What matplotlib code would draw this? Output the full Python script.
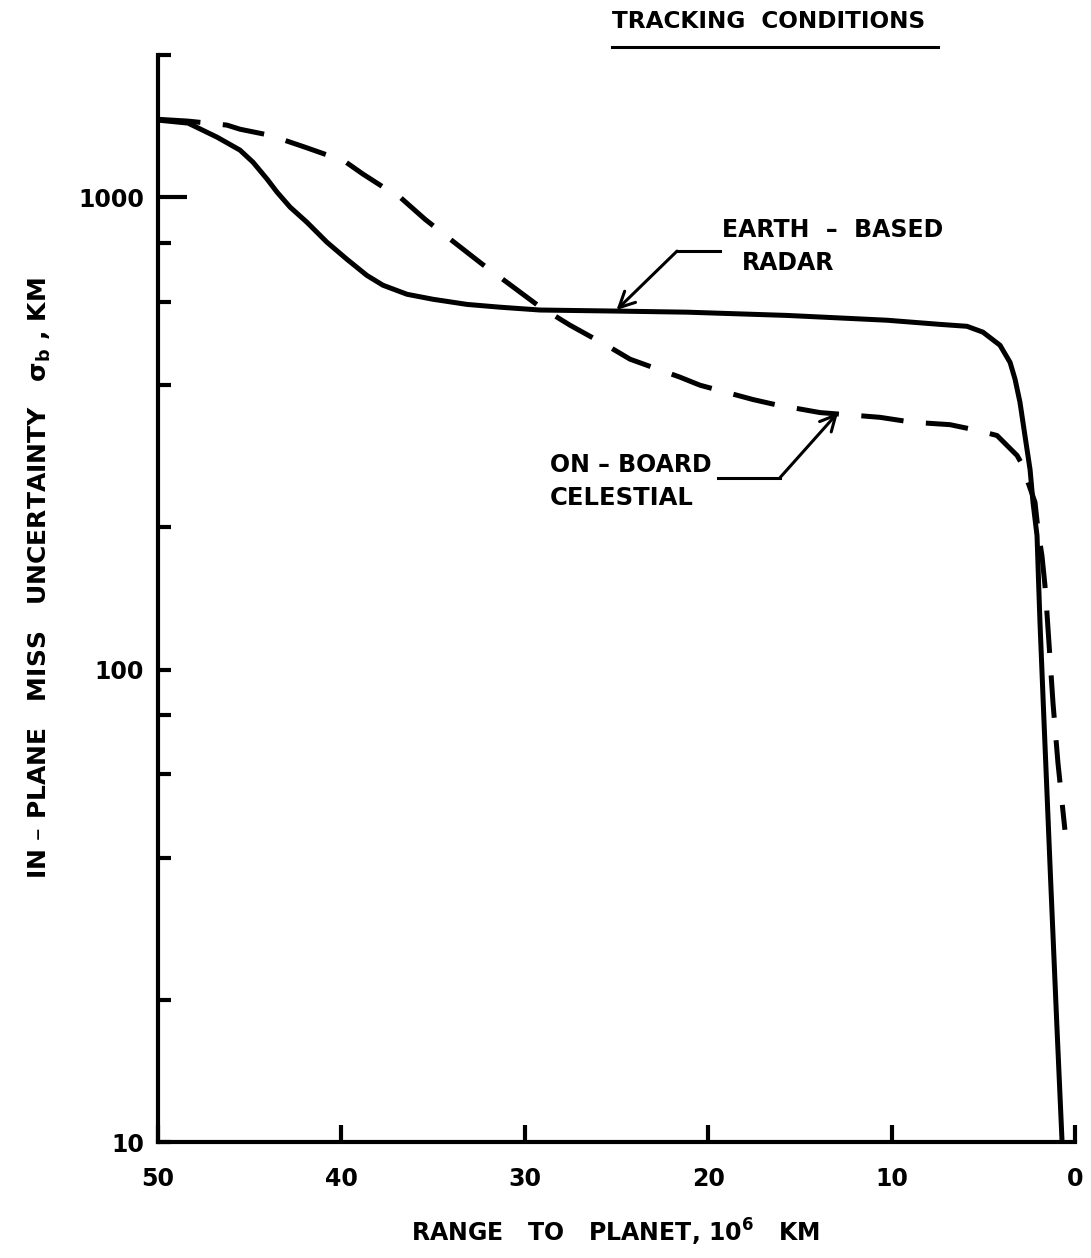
import matplotlib
matplotlib.use("Agg")
import matplotlib.pyplot as plt
from matplotlib.lines import Line2D

plt.rcParams['font.family'] = ['DejaVu Sans']
plt.rcParams['font.weight'] = 'bold'
plt.rcParams['mathtext.fontset'] = 'dejavusans'
plt.rcParams['mathtext.default'] = 'bf'

# Range to planet (10^6 km) and in-plane miss uncertainty (km)
radar_x = [50.0, 48.36, 46.78, 45.53, 44.82, 44.05, 43.51, 42.80, 41.88, 40.79,
           39.70, 38.61, 37.73, 36.42, 35.0, 33.15, 31.35, 29.17, 24.97, 21.16,
           15.70, 10.25, 7.36, 5.89, 5.02, 4.09, 3.54, 3.27, 3.00, 2.73,
           2.45, 2.29, 2.07, 1.98, 1.91, 1.70, 1.35, 0.99, 0.71]
radar_y = [1456, 1435, 1340, 1258, 1186, 1092, 1025, 953, 885, 803,
           739, 683, 651, 623, 608, 593, 585, 577, 574, 571,
           562, 549, 538, 533, 518, 486, 447, 412, 368, 313,
           265, 226, 192, 151, 126, 79.4, 37.5, 17.7, 10.1]

celestial_x = [50.0, 48.36, 46.24, 45.53, 43.89, 41.98, 40.89, 39.91, 38.82, 37.46,
               36.80, 35.44, 34.19, 32.33, 31.35, 29.28, 27.54, 25.35, 24.26, 21.54,
               20.45, 17.56, 16.36, 13.90, 10.63, 8.89, 6.82, 5.34, 4.25, 3.16,
               2.84, 2.56, 2.18, 2.02, 1.80, 1.64, 1.53, 1.20, 0.93, 0.55]
celestial_y = [1462, 1449, 1421, 1393, 1352, 1276, 1233, 1198, 1119, 1035,
               1000, 898, 822, 722, 677, 590, 536, 481, 454, 416,
               400, 373, 364, 350, 342, 334, 330, 321, 313, 284,
               270, 249, 226, 198, 174, 151, 132, 85, 63.5, 45.8]

x_ticks = [50, 40, 30, 20, 10, 0]
x_tick_labels = ['50', '40', '30', '20', '10', '0']
y_major = [10, 100, 1000, 2000]
y_major_labels = ['10', '100', '1000', '']
y_minor = [20, 40, 60, 80, 200, 400, 600, 800]

W, H = 1091, 1258


def fx(px):
    return px / W


def fy(py):
    return 1 - py / H


fig = plt.figure(figsize=(W / 100, H / 100), dpi=100)
ax = fig.add_axes([fx(158), fy(1142), (1075 - 158) / W, (1142 - 55) / H])

ax.set_yscale('log')
ax.set_xlim(50, 0)
ax.set_ylim(10, 2000)

ax.plot(radar_x, radar_y, color='black', lw=3.6, solid_joinstyle='round',
        solid_capstyle='round')
ax.plot(celestial_x, celestial_y, color='black', lw=3.6, linestyle=(0, (8.5, 4.5)))

for s in ['top', 'right']:
    ax.spines[s].set_visible(False)
for s in ['left', 'bottom']:
    ax.spines[s].set_linewidth(3.0)

ax.set_xticks(x_ticks)
ax.set_xticklabels(x_tick_labels)
ax.set_yticks(y_major)
ax.set_yticklabels(y_major_labels)
ax.set_yticks(y_minor, minor=True)
ax.yaxis.set_minor_formatter(matplotlib.ticker.NullFormatter())

ax.tick_params(axis='x', direction='in', length=12, width=3, pad=18, labelsize=17)
ax.tick_params(axis='y', which='both', direction='in', length=9.5, width=3,
               pad=10, labelsize=17)
# longer tick at 1000
ax.yaxis.get_major_ticks()[2].tick1line.set_markersize(21)

# axis titles
fig.text(fx(40), fy(578), 'IN – PLANE   MISS   UNCERTAINTY   σ$_b$ , KM',
         rotation=90, ha='center', va='center', fontsize=18, fontweight='bold')
fig.text(fx(615), fy(1232), 'RANGE   TO   PLANET, 10$^6$   KM',
         ha='center', va='center', fontsize=17, fontweight='bold')

# header
fig.text(fx(612), fy(22), 'TRACKING  CONDITIONS', ha='left', va='center',
         fontsize=16.7, fontweight='bold')
fig.add_artist(Line2D([fx(612), fx(938)], [fy(47), fy(47)], color='black',
                      lw=2.2, transform=fig.transFigure))

# curve labels
fig.text(fx(722), fy(230), 'EARTH  –  BASED', ha='left', va='center',
         fontsize=17, fontweight='bold')
fig.text(fx(742), fy(263), 'RADAR', ha='left', va='center',
         fontsize=17, fontweight='bold')
fig.text(fx(550), fy(465), 'ON – BOARD', ha='left', va='center',
         fontsize=17, fontweight='bold')
fig.text(fx(550), fy(498), 'CELESTIAL', ha='left', va='center',
         fontsize=17.5, fontweight='bold')

# leader arrows
ax.plot([19.36, 21.7], [769, 769], color='black', lw=2.2)
ax.annotate('', xy=(25.0, 577), xytext=(21.7, 769),
            arrowprops=dict(arrowstyle='->', color='black', lw=2.2,
                            mutation_scale=28, shrinkA=0, shrinkB=0))
ax.plot([19.47, 16.08], [255, 255], color='black', lw=2.2)
ax.annotate('', xy=(12.92, 350), xytext=(16.08, 255),
            arrowprops=dict(arrowstyle='->', color='black', lw=2.2,
                            mutation_scale=28, shrinkA=0, shrinkB=0))

fig.savefig('out.png', dpi=100)
